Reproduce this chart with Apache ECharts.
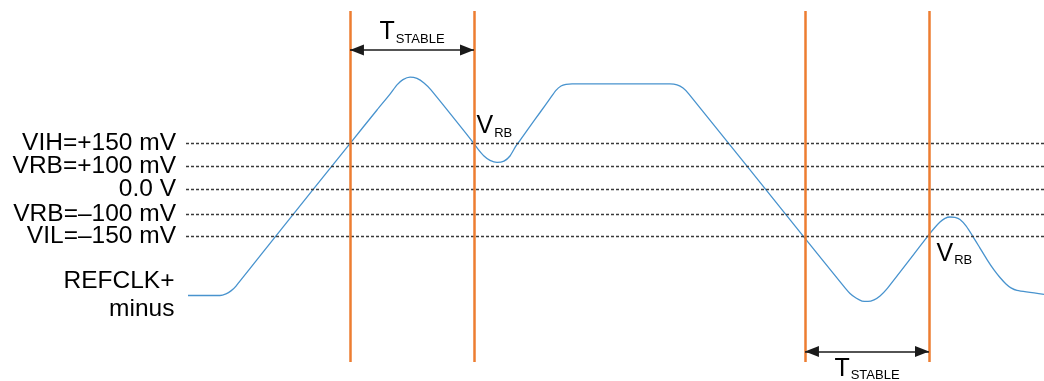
<!DOCTYPE html>
<html>
<head>
<meta charset="utf-8">
<script src="https://cdn.jsdelivr.net/npm/echarts@6/dist/echarts.min.js"></script>
<style>
  html, body { margin: 0; padding: 0; background: #fff; }
  #chart { width: 1044px; height: 381px; }
</style>
</head>
<body>
<div id="chart"></div>
<script>
// REFCLK differential waveform (schematic units: time 0..100, level units per threshold)
const timePts = [0.23, 3.96, 4.66, 5.24, 5.83, 10.49, 19.11, 22.26, 23.78, 24.59,
  25.29, 26.11, 26.92, 27.74, 28.55, 33.57, 34.03, 34.73, 35.43, 36.25,
  37.06, 37.76, 38.46, 38.93, 40.09, 41.26, 42.42, 43.12, 43.71, 44.29,
  44.99, 56.41, 57.23, 57.93, 58.62, 71.91, 76.81, 77.39, 78.09, 78.79,
  79.49, 80.19, 80.89, 81.59, 86.48, 87.18, 87.88, 88.46, 89.04, 89.63,
  90.21, 90.91, 91.72, 92.54, 93.36, 94.17, 94.87, 95.57, 96.15, 96.85, 100];
const signalPts = [-4.61, -4.61, -4.54, -4.41, -4.20, -2.02, 1.99, 3.45, 4.14, 4.54,
  4.77, 4.88, 4.82, 4.62, 4.32, 1.99, 1.75, 1.45, 1.26, 1.17,
  1.23, 1.45, 1.89, 2.13, 2.74, 3.34, 3.94, 4.30, 4.49, 4.56,
  4.58, 4.58, 4.54, 4.40, 4.14, -2.02, -4.28, -4.52, -4.72, -4.85,
  -4.87, -4.80, -4.63, -4.37, -2.02, -1.70, -1.42, -1.26, -1.20, -1.22,
  -1.31, -1.59, -2.05, -2.55, -3.05, -3.50, -3.83, -4.11, -4.28, -4.39, -4.56];

// Threshold levels
const levelNames = ['VIH=+150 mV', 'VRB=+100 mV', '0.0 V', 'VRB=\u2013100 mV', 'VIL=\u2013150 mV'];
const levelPos = [1.99, 1.02, 0, -1.07, -2.02];

// Stability window edges and their dimension arrows [start, end, level]
const stableEdges = [19.11, 33.57, 72.14, 86.6];
const stableWindows = [[19.11, 33.57, 6.06], [72.14, 86.6, -7.04]];

// Ring-back annotation anchors [time, level]
const vrbPoints = [[33.57, 1.99], [86.48, -2.02]];

const signalLabel = 'REFCLK+\nminus';

const FONT = 'Liberation Sans, Arial, sans-serif';
const BLUE = '#4893CE';
const ORANGE = '#ED7D31';
const LABEL_SIZE = 24.5;

const chart = echarts.init(document.getElementById('chart'), null, { renderer: 'canvas' });

// Main letter with a dropped subscript
const subRich = {
  big: { fontSize: 25, fontFamily: FONT, color: '#000', lineHeight: 27 },
  sub: { fontSize: 13, fontFamily: FONT, color: '#000', verticalAlign: 'bottom', lineHeight: 9, padding: [0, 0, 0, 1] }
};

const option = {
  animation: false,
  backgroundColor: '#fff',
  grid: { left: 186, right: 0, top: 11, bottom: 19 },
  xAxis: {
    type: 'value', min: 0, max: 100,
    axisLine: { show: false }, axisTick: { show: false },
    axisLabel: { show: false }, splitLine: { show: false }
  },
  yAxis: {
    type: 'value', min: -7.5, max: 7.75,
    axisLine: { show: false }, axisTick: { show: false },
    axisLabel: { show: false }, splitLine: { show: false }
  },
  series: [
    {
      name: 'levels',
      type: 'line',
      data: [],
      silent: true,
      markLine: {
        silent: true,
        symbol: ['none', 'none'],
        lineStyle: { color: '#3a3a3a', width: 1.3, type: [3, 2] },
        label: {
          show: true, position: 'start', distance: 10,
          formatter: (p) => p.name,
          color: '#000', fontSize: LABEL_SIZE, fontFamily: FONT
        },
        data: levelNames.map((n, i) => ({ name: n, yAxis: levelPos[i] }))
      }
    },
    {
      name: 'edges',
      type: 'line',
      data: [],
      silent: true,
      markLine: {
        silent: true,
        symbol: ['none', 'none'],
        lineStyle: { color: ORANGE, width: 2.5, type: 'solid' },
        label: { show: false },
        data: stableEdges.map((x) => ({ xAxis: x }))
      }
    },
    {
      name: 'tstable',
      type: 'line',
      data: [],
      silent: true,
      markLine: {
        silent: true,
        symbol: ['triangle', 'triangle'],
        symbolSize: [11, 14],
        symbolOffset: [[0, 7], [0, 7]],
        lineStyle: { color: '#1a1a1a', width: 1.5, type: 'solid' },
        itemStyle: { color: '#000' },
        label: {
          show: true,
          formatter: '{big|T}{sub|STABLE}',
          rich: subRich
        },
        data: stableWindows.map((w, i) => [
          {
            coord: [w[0], w[2]],
            label: { position: i === 0 ? 'middle' : 'insideMiddleBottom', distance: 4 }
          },
          { coord: [w[1], w[2]] }
        ])
      }
    },
    {
      name: 'REFCLK+ minus',
      type: 'line',
      data: timePts.map((t, i) => [t, signalPts[i]]),
      showSymbol: false,
      smooth: 0.2,
      lineStyle: { color: BLUE, width: 1.3 },
      markPoint: {
        symbol: 'circle',
        symbolSize: 1,
        itemStyle: { color: 'rgba(0,0,0,0)' },
        silent: true,
        label: { show: true },
        data: [
          {
            coord: [timePts[0], signalPts[0]],
            label: {
              show: true,
              formatter: signalLabel, position: 'left', distance: 13,
              align: 'right', color: '#000', fontSize: LABEL_SIZE, fontFamily: FONT, lineHeight: 28
            }
          },
          ...vrbPoints.map((p, i) => ({
            coord: p,
            label: {
              show: true,
              formatter: '{big|V}{sub|RB}', rich: subRich,
              position: i === 0 ? [3, -3] : [9, 32],
              align: 'left', verticalAlign: 'bottom'
            }
          }))
        ]
      }
    }
  ]
};

chart.setOption(option);
</script>
</body>
</html>
